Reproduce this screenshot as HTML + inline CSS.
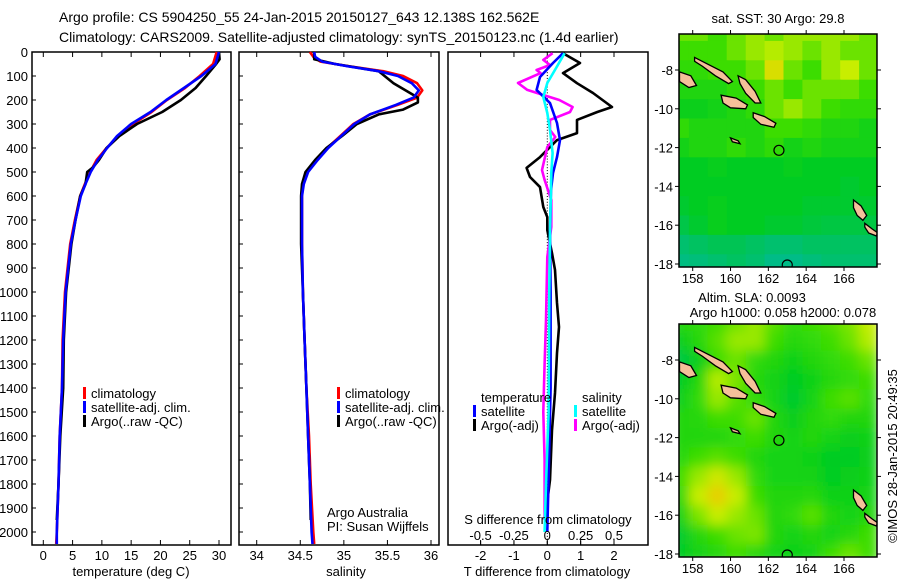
<!DOCTYPE html>
<html><head><meta charset="utf-8">
<style>
body{margin:0;background:#fff;}
svg{display:block;font-family:"Liberation Sans",Arial,sans-serif;}
text{fill:#000;}
</style></head>
<body>
<svg id="chart" width="900" height="580" viewBox="0 0 900 580" xmlns="http://www.w3.org/2000/svg">
<defs>
<filter id="blur" x="0" y="0" width="1" height="1"><feGaussianBlur stdDeviation="6"/></filter>
<clipPath id="clipTop"><rect x="679" y="34" width="198" height="233"/></clipPath>
<clipPath id="clipBot"><rect x="679" y="324" width="198" height="233"/></clipPath>
</defs>
<text x="59" y="22" font-size="14">Argo profile: CS 5904250_55 24-Jan-2015 20150127_643 12.138S 162.562E</text>
<text x="59" y="42" font-size="14">Climatology: CARS2009. Satellite-adjusted climatology: synTS_20150123.nc (1.4d earlier)</text>
<g id="g"></g>
<text transform="translate(897,456) rotate(-90)" text-anchor="middle" font-size="13">©IMOS 28-Jan-2015 20:49:35</text>
</svg>
<script>
// ---------- data ----------
const depthTicks=[0,100,200,300,400,500,600,700,800,900,1000,1100,1200,1300,1400,1500,1600,1700,1800,1900,2000];
const tempTicks=[0,5,10,15,20,25,30];
const salTicks=[34,34.5,35,35.5,36];
const salTickLabels=["34","34.5","35","35.5","36"];
const tdiffTicks=[-2,-1,0,1,2];
const sdiffTicks=[-0.5,-0.25,0,0.25,0.5];
const sdiffTickLabels=["-0.5","-0.25","0","0.25","0.5"];

const climDepth=[0,50,100,150,200,250,300,350,400,450,500,550,600,700,800,1000,1200,1400,1600,1800,2000,2050];
const climTemp=[29.6,29.0,26.7,24.2,21.1,18.5,15.3,12.8,10.8,9.1,8.0,7.1,6.3,5.4,4.6,3.7,3.3,3.2,2.8,2.6,2.3,2.2];
const satTemp=[30.0,29.4,27.0,24.0,21.0,18.3,15.0,12.6,10.9,9.3,8.1,7.2,6.4,5.5,4.7,3.8,3.4,3.2,2.8,2.6,2.3,2.3];
const argoDepth=[0,30,50,100,150,200,250,300,350,400,450,480,500,550,600,700,800,1000,1200,1400,1600,1800,1950];
const argoTemp=[30.0,30.1,29.5,27.8,26.0,23.5,20.3,16.0,13.0,10.8,9.5,8.5,7.5,7.2,6.3,5.5,4.8,3.9,3.5,3.4,2.9,2.6,2.3];

const salClimDepth=[0,20,40,60,80,100,130,160,190,220,260,300,350,400,450,500,550,600,800,1000,1200,1400,1600,1800,2000,2050];
const salClim=[34.61,34.65,34.73,35.07,35.45,35.68,35.84,35.90,35.84,35.62,35.30,35.11,34.96,34.81,34.69,34.58,34.53,34.52,34.52,34.53,34.55,34.57,34.60,34.62,34.65,34.66];
const salSat=[34.66,34.67,34.75,35.05,35.40,35.62,35.78,35.86,35.80,35.60,35.30,35.12,34.97,34.82,34.70,34.59,34.54,34.52,34.52,34.53,34.55,34.57,34.59,34.61,34.63,34.64];
const salArgoDepth=[0,30,50,80,130,190,210,240,260,300,350,400,450,500,550,600,800,1000,1200,1400,1600,1800,1950];
const salArgo=[34.66,34.66,34.90,35.40,35.57,35.85,35.85,35.68,35.40,35.15,34.98,34.80,34.67,34.56,34.52,34.51,34.51,34.53,34.55,34.57,34.59,34.61,34.62];

const tdArgoDepth=[5,46,88,130,171,229,250,283,338,367,438,483,521,563,646,688,742,838,908,1046,1146,1254,1421,1575,1783,1950];
const tdArgo=[0.47,0.98,0.47,0.89,1.37,1.94,1.5,0.89,0.89,0.29,-0.22,-0.62,-0.52,-0.22,-0.12,0,0,0.14,0.23,0.29,0.35,0.29,0.23,0.14,0.08,-0.07];
const tdSatDepth=[5,46,104,158,213,296,367,438,504,575,754,1000,1400,1700,2000];
const tdSat=[0.47,0.17,-0.22,-0.32,0.08,0.29,0.38,0.29,0.17,0.11,0.08,0.1,0.1,0.05,0.0];
const sdSatDepth=[5,63,129,188,254,325,421,504,754,1000,1500,1800,2000];
const sdSat=[0.13,0.07,0,-0.03,0,0.02,0.04,0.03,0.02,0.015,0.01,-0.01,-0.02];
const sdArgoDepth=[5,33,54,75,88,129,158,179,200,229,250,283,325,354,396,492,533,617,729,854,1117,1300,1500,1700,1950];
const sdArgo=[0.04,-0.03,0.02,-0.08,-0.05,-0.22,-0.15,-0.03,0.09,0.19,0.17,0.02,0.02,0.06,0,-0.04,-0.02,0.03,0.03,0,-0.01,-0.02,-0.03,-0.02,-0.02];

const lonTicks=[158,160,162,164,166];
const latTicks=[-8,-10,-12,-14,-16,-18];
const gridLons=[157.3,158.3,159.3,160.3,161.3,162.3,163.3,164.3,165.3,166.3,167.3];
const gridLats=[-6,-7,-8,-9,-10,-11,-12,-13,-14,-15,-16,-17,-18];
const sstGrid=[
[0.5,0.5,0.45,0.5,0.55,0.5,0.55,0.55,0.55,0.55,0.5],
[0.45,0.45,0.45,0.5,0.55,0.58,0.55,0.5,0.55,0.5,0.5],
[0.42,0.42,0.45,0.45,0.5,0.65,0.5,0.45,0.55,0.6,0.5],
[0.38,0.38,0.38,0.42,0.45,0.5,0.45,0.5,0.5,0.5,0.45],
[0.33,0.33,0.35,0.38,0.42,0.5,0.55,0.5,0.45,0.42,0.42],
[0.42,0.38,0.38,0.38,0.38,0.45,0.45,0.42,0.38,0.38,0.35],
[0.35,0.38,0.38,0.42,0.38,0.42,0.35,0.38,0.35,0.35,0.35],
[0.3,0.3,0.32,0.3,0.3,0.3,0.32,0.3,0.3,0.3,0.3],
[0.3,0.3,0.3,0.3,0.3,0.3,0.3,0.3,0.3,0.28,0.3],
[0.28,0.3,0.32,0.3,0.3,0.3,0.3,0.28,0.28,0.28,0.28],
[0.24,0.28,0.32,0.3,0.3,0.28,0.28,0.26,0.25,0.25,0.25],
[0.18,0.2,0.22,0.22,0.2,0.18,0.18,0.2,0.2,0.2,0.2],
[0.15,0.16,0.18,0.2,0.18,0.14,0.14,0.16,0.18,0.18,0.18]];
const slaGrid=[
[0.4,0.42,0.45,0.5,0.55,0.48,0.42,0.45,0.48,0.52,0.6],
[0.32,0.4,0.48,0.55,0.55,0.45,0.4,0.42,0.45,0.5,0.58],
[0.25,0.32,0.45,0.5,0.42,0.38,0.34,0.38,0.42,0.45,0.5],
[0.3,0.38,0.58,0.52,0.4,0.35,0.3,0.34,0.4,0.42,0.45],
[0.33,0.42,0.55,0.48,0.42,0.36,0.28,0.36,0.45,0.48,0.42],
[0.38,0.4,0.45,0.45,0.5,0.38,0.32,0.38,0.42,0.38,0.38],
[0.38,0.38,0.38,0.42,0.45,0.38,0.36,0.38,0.36,0.32,0.34],
[0.4,0.45,0.48,0.45,0.38,0.36,0.36,0.34,0.3,0.3,0.32],
[0.45,0.55,0.62,0.55,0.42,0.36,0.36,0.35,0.3,0.32,0.34],
[0.4,0.6,0.7,0.6,0.45,0.38,0.38,0.4,0.34,0.34,0.36],
[0.34,0.52,0.6,0.55,0.5,0.38,0.42,0.48,0.38,0.36,0.38],
[0.28,0.4,0.45,0.5,0.52,0.38,0.36,0.38,0.36,0.4,0.45],
[0.3,0.35,0.4,0.45,0.4,0.36,0.34,0.36,0.45,0.5,0.45]];
const islandNames=["new-georgia","choiseul","santa-isabel","guadalcanal","malaita","rennell","espiritu-santo","malekula"];
const islandShapes=[
[[157.3,-8.1],[157.9,-8.3],[158.2,-8.8],[157.8,-8.9],[157.3,-8.6]],
[[158.1,-7.35],[158.8,-7.7],[159.6,-8.1],[160.1,-8.6],[159.9,-8.7],[159.2,-8.3],[158.5,-7.8],[158.1,-7.55]],
[[160.4,-8.3],[160.8,-8.5],[161.3,-9.1],[161.6,-9.7],[161.3,-9.7],[160.8,-9.2],[160.5,-8.7]],
[[159.5,-9.3],[160.3,-9.45],[160.9,-9.8],[160.8,-10.0],[160.0,-9.95],[159.6,-9.7]],
[[161.2,-10.2],[161.8,-10.4],[162.4,-10.75],[162.3,-10.95],[161.6,-10.8],[161.2,-10.45]],
[[160.0,-11.5],[160.4,-11.65],[160.5,-11.8],[160.1,-11.7]],
[[166.5,-14.7],[166.9,-15.0],[167.2,-15.5],[167.0,-15.75],[166.7,-15.5],[166.5,-15.1]],
[[167.1,-15.9],[167.5,-16.2],[167.8,-16.4],[167.7,-16.55],[167.3,-16.4],[167.1,-16.1]]];
const argoLon=162.56, argoLat=-12.14;
const marker2Lon=163.0, marker2Lat=-18.05;

// ---------- helpers ----------
const NS="http://www.w3.org/2000/svg";
const G=document.getElementById('g');
function mk(tag,attrs,parent){const e=document.createElementNS(NS,tag);for(const k in attrs)e.setAttribute(k,attrs[k]);(parent||G).appendChild(e);return e;}
function txt(x,y,s,size,anchor,parent){const t=mk('text',{x:x,y:y,'font-size':size||13,'text-anchor':anchor||'start'},parent);t.textContent=s;return t;}
function lin(d0,d1,r0,r1){return v=>r0+(v-d0)/(d1-d0)*(r1-r0);}

const Y=lin(0,2000,52,532);
const TOP=52,BOT=545;
const xT=lin(0,30,43.3,219);
const xS=lin(34,36,256.7,431);
const xTd=lin(0,2,547.3,614);
const xSd=lin(0,0.5,547.3,614);

function frame(x0,x1,name){const r=mk('rect',{x:x0,y:TOP,width:x1-x0,height:BOT-TOP,fill:'none',stroke:'#000','stroke-width':1.5});}
function line(xs,ds,fx,color,name){
  const pts=xs.map((v,i)=>fx(v).toFixed(1)+','+Y(ds[i]).toFixed(1)).join(' ');
  const p=mk('polyline',{points:pts,fill:'none',stroke:color,'stroke-width':2.6,'stroke-linejoin':'round'});
  
  
}
function xticks(ticks,labels,fx,yLab){
  ticks.forEach((v,i)=>{const x=fx(v);
    mk('line',{x1:x,x2:x,y1:BOT,y2:BOT-5,stroke:'#000'});
    mk('line',{x1:x,x2:x,y1:TOP,y2:TOP+5,stroke:'#000'});
    if(yLab){const t=txt(x,yLab,labels[i],13,'middle');}
  });
}
function legendEntry(x,y,color,label){
  mk('rect',{x:x,y:y-11,width:3,height:12,fill:color});
  const t=txt(x+8,y,label,13);
  
  
}

// ---------- panel 1: temperature ----------
frame(32,231,'temperature-panel');
depthTicks.forEach(d=>{const y=Y(d);mk('line',{x1:32,x2:36,y1:y,y2:y,stroke:'#000'});
  const t=txt(28,y+5,String(d),13,'end');});
xticks(tempTicks,tempTicks.map(String),xT,560);
line(climTemp,climDepth,xT,'#f00','temp-climatology-line');
line(argoTemp,argoDepth,xT,'#000','temp-argo-line');
line(satTemp,climDepth,xT,'#00f','temp-satellite-line');
let t1=txt(131,576,'temperature (deg C)',13,'middle');
legendEntry(83,398,'#f00','climatology');
legendEntry(83,412,'#00f','satellite-adj. clim.');
legendEntry(83,426,'#000','Argo(..raw -QC)');

// ---------- panel 2: salinity ----------
frame(239,439,'salinity-panel');
depthTicks.forEach(d=>{const y=Y(d);mk('line',{x1:239,x2:243,y1:y,y2:y,stroke:'#000'});});
xticks(salTicks,salTickLabels,xS,560);
line(salClim,salClimDepth,xS,'#f00','sal-climatology-line');
line(salArgo,salArgoDepth,xS,'#000','sal-argo-line');
line(salSat,salClimDepth,xS,'#00f','sal-satellite-line');
let t2=txt(346,576,'salinity',13,'middle');
legendEntry(337,398,'#f00','climatology');
legendEntry(337,412,'#00f','satellite-adj. clim.');
legendEntry(337,426,'#000','Argo(..raw -QC)');
let t3=txt(327,517,'Argo Australia',13);
let t4=txt(327,531,'PI: Susan Wijffels',13);

// ---------- panel 3: differences ----------
frame(448,648,'difference-panel');
for(let d=0;d<=2050;d+=12){mk('rect',{x:xTd(0)-0.5,y:Y(d),width:1,height:1,fill:'#000'});}
xticks(tdiffTicks,tdiffTicks.map(String),xTd,560);
line(tdArgo,tdArgoDepth,xTd,'#000','tdiff-argo-line');
line(sdArgo,sdArgoDepth,xSd,'#f0f','sdiff-argo-line');
line(tdSat,tdSatDepth,xTd,'#00f','tdiff-satellite-line');
line(sdSat,sdSatDepth,xSd,'#0ff','sdiff-satellite-line');
sdiffTicks.forEach((v,i)=>{const x=xSd(v);mk('line',{x1:x,x2:x,y1:BOT,y2:BOT-4,stroke:'#000'});
  const t=txt(x,540,sdiffTickLabels[i],13,'middle');});
let t5=txt(548,524,'S difference from climatology',13,'middle');
let t6=txt(547,576,'T difference from climatology',13,'middle');
let t7=txt(481,402,'temperature',13);
let t8=txt(582,402,'salinity',13);
legendEntry(473,416,'#00f','satellite');
legendEntry(473,430,'#000','Argo(-adj)');
legendEntry(574,416,'#0ff','satellite');
legendEntry(574,430,'#f0f','Argo(-adj)');

// ---------- maps ----------
const cmapStops=[[0.1,[0,184,160]],[0.3,[0,204,34]],[0.45,[60,221,0]],[0.6,[200,238,0]],[0.72,[238,200,0]],[0.9,[238,110,0]]];
function cmap(v){
  if(v<=cmapStops[0][0])return 'rgb('+cmapStops[0][1]+')';
  for(let i=1;i<cmapStops.length;i++){if(v<=cmapStops[i][0]){const a=cmapStops[i-1],b=cmapStops[i],f=(v-a[0])/(b[0]-a[0]);
    return 'rgb('+a[1].map((c,k)=>Math.round(c+(b[1][k]-c)*f)).join(',')+')';}}
  return 'rgb('+cmapStops[cmapStops.length-1][1]+')';
}
function drawMap(y0,grid,clip,blur,name){
  const xL=lin(158,166,692.7,844), yL=lin(-8,-18,y0+36,y0+230);
  const g=mk('g',{'clip-path':'url(#'+clip+')'});
  
  
  const cg=mk('g',blur?{filter:'url(#blur)'}:{},g);
  mk('rect',{x:679,y:y0,width:198,height:233,fill:cmap(0.35)},cg);
  grid.forEach((row,r)=>row.forEach((v,c)=>{
    const x=xL(gridLons[c]-0.5), y=yL(gridLats[r]+0.5);
    const cell=mk('rect',{x:x.toFixed(1),y:y.toFixed(1),width:(xL(1)-xL(0)+0.8).toFixed(1),height:(yL(-1)-yL(0)+0.8).toFixed(1),fill:cmap(v)},cg);
    
  }));
  islandShapes.forEach((s,i)=>{
    const p=mk('polygon',{points:s.map(q=>xL(q[0]).toFixed(1)+','+yL(q[1]).toFixed(1)).join(' '),fill:'#f5c09a',stroke:'#000','stroke-width':1.3},g);
    
  });
  const c1=mk('circle',{cx:xL(argoLon),cy:yL(argoLat),r:5,fill:'none',stroke:'#000','stroke-width':1.2},g);
  
  mk('circle',{cx:xL(marker2Lon),cy:yL(marker2Lat),r:5,fill:'none',stroke:'#000','stroke-width':1.2},g);
  const fr=mk('rect',{x:679,y:y0,width:198,height:233,fill:'none',stroke:'#000','stroke-width':1.5});
  
  
  lonTicks.forEach(l=>{const x=xL(l);mk('line',{x1:x,x2:x,y1:y0,y2:y0-4,stroke:'#000'});mk('line',{x1:x,x2:x,y1:y0+233,y2:y0+237,stroke:'#000'});
    const t=txt(x,y0+249,String(l),13,'middle');});
  latTicks.forEach(l=>{const y=yL(l);mk('line',{x1:679,x2:675,y1:y,y2:y,stroke:'#000'});mk('line',{x1:877,x2:881,y1:y,y2:y,stroke:'#000'});
    const t=txt(673,y+5,String(l),13,'end');});
}
drawMap(34,sstGrid,'clipTop',false,'sst-map');
drawMap(324,slaGrid,'clipBot',true,'sla-map');
let m1=txt(778,23,'sat. SST: 30 Argo: 29.8',13,'middle');
let m2=txt(752,302,'Altim. SLA: 0.0093',13,'middle');
let m3=txt(783,317,'Argo h1000: 0.058 h2000: 0.078',13,'middle');
</script>
</body></html>
